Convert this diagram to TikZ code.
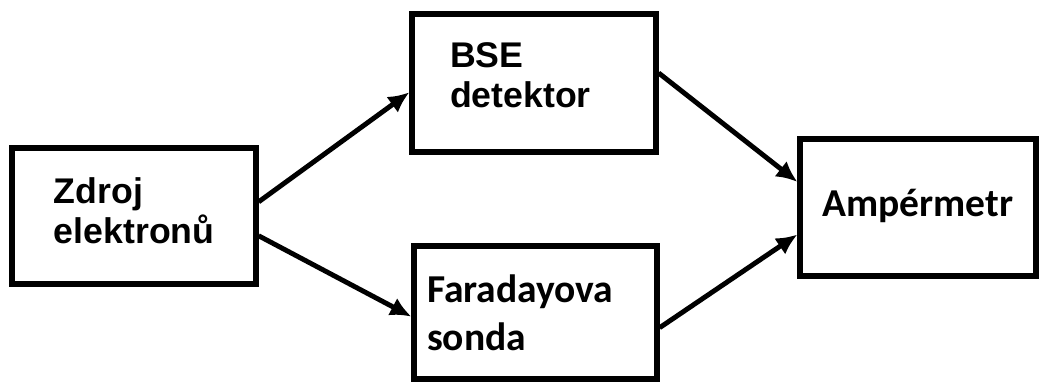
\documentclass[tikz,border=0pt]{standalone}
\usepackage{fontspec}
\setmainfont{Liberation Sans}
\newfontfamily\calibrifont{Carlito}
\usetikzlibrary{arrows.meta, calc}

\begin{document}
\begin{tikzpicture}[
  block/.style={
    % The shape:
    rectangle,
    % The border:
    draw=black,
    line width=3pt,
    % Text inside
    align=left,
    inner sep=0pt
  },
  arialtext/.style={font=\fontsize{20.3}{23}\selectfont\bfseries},
  calibritext/.style={font=\calibrifont\fontsize{22.5}{27.2}\selectfont\bfseries},
  link/.style={-{Latex[length=4.2mm, width=3.9mm]}, line width=2.8pt}
  ]

  \useasboundingbox (0, 0) rectangle (20.8, 7.66);

  % The four blocks
  \node (zdroj) [block, arialtext, minimum width=4.88cm, minimum height=2.72cm,
    text width=3.2cm, text depth=1.02cm] at (2.68, 3.34) {Zdroj\\elektronů};
  \node (bse) [block, arialtext, minimum width=4.88cm, minimum height=2.76cm,
    text width=3.36cm, text depth=1.135cm] at (10.68, 6.00) {BSE\\detektor};
  \node (faraday) [block, calibritext, minimum width=4.86cm, minimum height=2.66cm,
    text width=4.34cm, text depth=0.96cm] at (10.71, 1.41) {Faradayova\\sonda};
  \node (amp) [block, calibritext, minimum width=4.72cm, minimum height=2.74cm,
    text height=0.6cm, text depth=0.22cm] at (18.36, 3.51) {Ampérmetr};

  % Connections between the blocks
  \draw [link] ($(zdroj.north east)!0.40!(zdroj.south east)$) -- ($(bse.north west)!0.565!(bse.south west)$);
  \draw [link] ($(zdroj.north east)!0.64!(zdroj.south east)$) -- ($(faraday.north west)!0.53!(faraday.south west)$);
  \draw [link] ($(bse.north east)!0.43!(bse.south east)$) -- ($(amp.north west)!0.32!(amp.south west)$);
  \draw [link] ($(faraday.north east)!0.61!(faraday.south east)$) -- ($(amp.north west)!0.69!(amp.south west)$);

\end{tikzpicture}
\end{document}
